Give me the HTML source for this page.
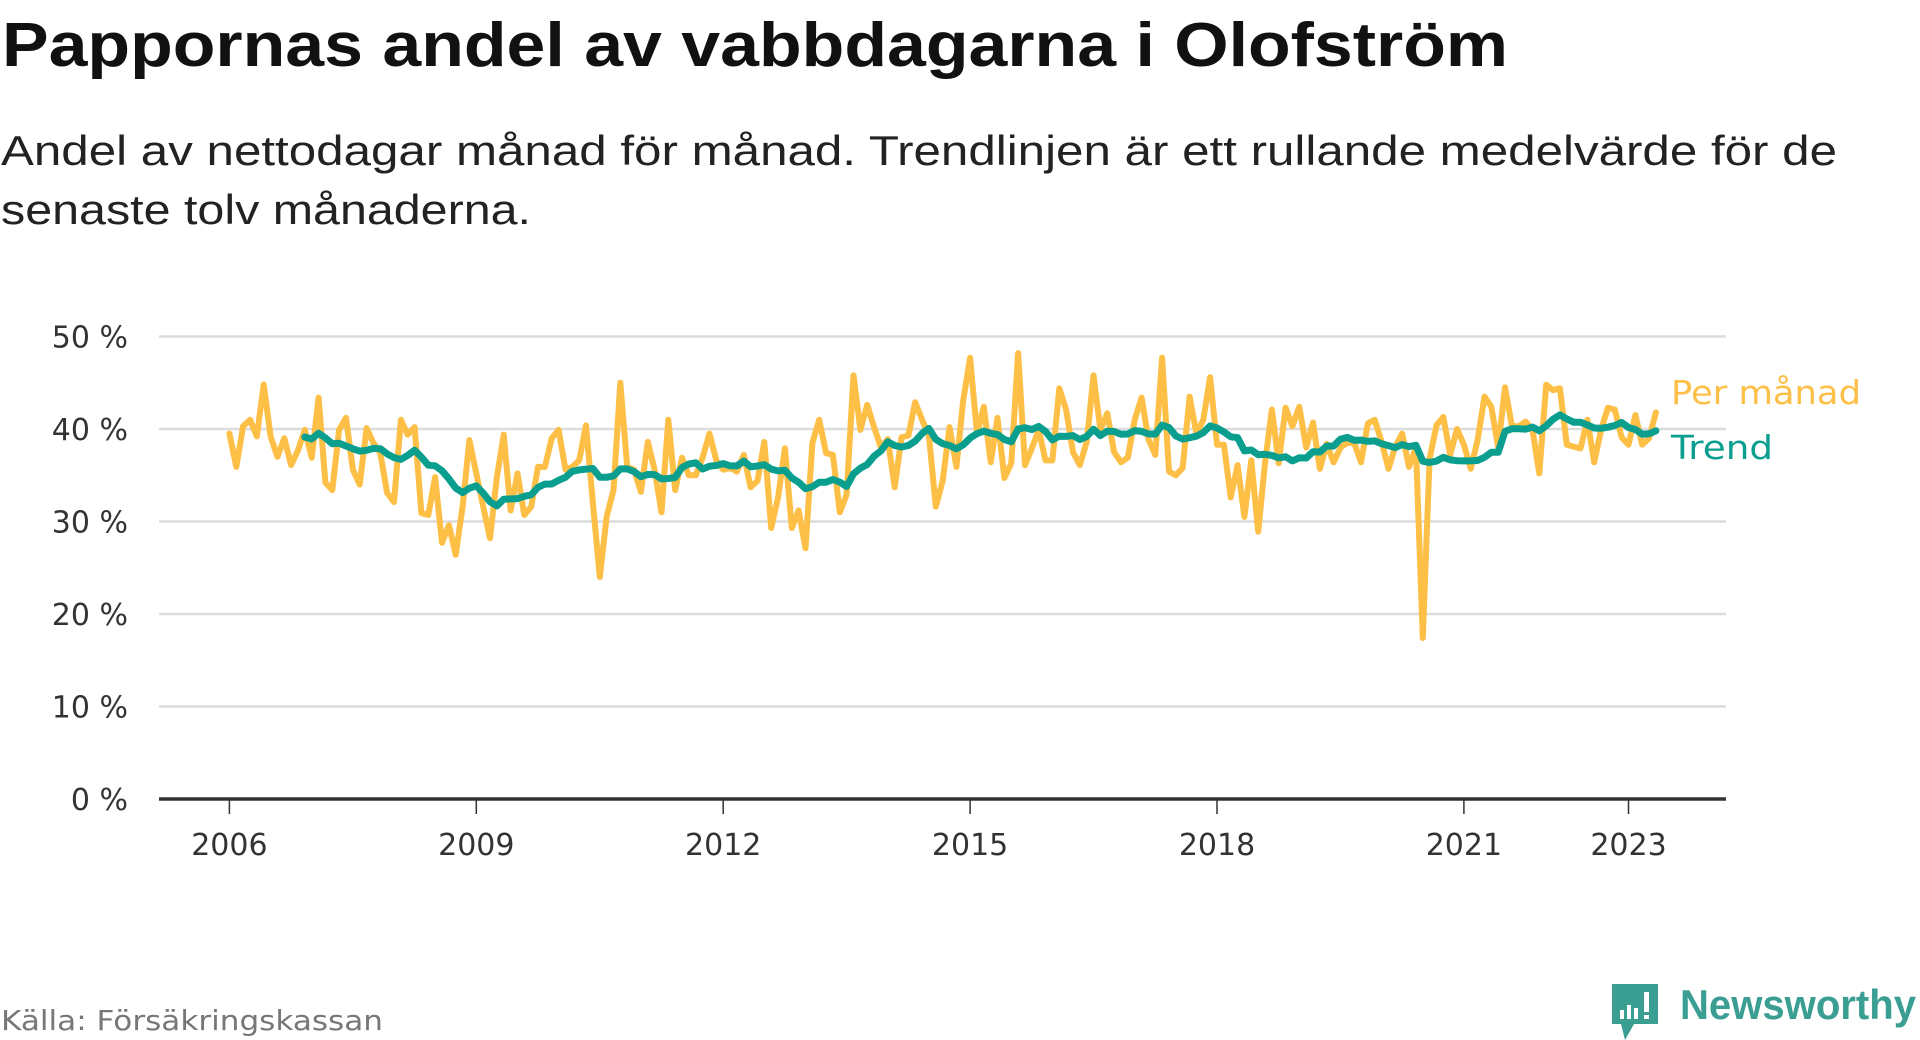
<!DOCTYPE html>
<html><head><meta charset="utf-8"><style>
html,body{margin:0;padding:0;background:#fff;width:1920px;height:1040px;overflow:hidden}
svg{display:block}
</style></head><body>
<svg id="chart" width="1920" height="1040" viewBox="0 0 1920 1040" xmlns="http://www.w3.org/2000/svg" font-family="'DejaVu Sans', 'Liberation Sans', sans-serif">
<text x="2" y="66" font-size="62" font-weight="bold" fill="#111" textLength="1506" lengthAdjust="spacingAndGlyphs" font-family="'Liberation Sans', sans-serif">Pappornas andel av vabbdagarna i Olofström</text>
<text x="1" y="165" font-size="42" fill="#222" textLength="1836" lengthAdjust="spacingAndGlyphs" font-family="'Liberation Sans', sans-serif">Andel av nettodagar månad för månad. Trendlinjen är ett rullande medelvärde för de</text>
<text x="1" y="224" font-size="42" fill="#222" textLength="530" lengthAdjust="spacingAndGlyphs" font-family="'Liberation Sans', sans-serif">senaste tolv månaderna.</text>
<g id="grid"></g>
<g id="yaxis"></g>
<g id="xaxis"></g>
<g id="series"></g>
<text x="1671" y="404" font-size="33" fill="#fdbf46" textLength="190" lengthAdjust="spacingAndGlyphs">Per månad</text>
<text x="1671" y="459" font-size="33" fill="#0a9e8e" textLength="102" lengthAdjust="spacingAndGlyphs">Trend</text>
<text x="1" y="1030" font-size="28" fill="#777" textLength="382" lengthAdjust="spacingAndGlyphs">Källa: Försäkringskassan</text>
<g>
<path d="M1612 984 h46 v40 h-24 l-9 16 l-4 -16 h-9 z" fill="#3a9e93"/>
<rect x="1620" y="1010" width="4" height="9" fill="#fff"/>
<rect x="1627" y="1005" width="4" height="14" fill="#fff"/>
<rect x="1634" y="1008" width="4" height="11" fill="#fff"/>
<rect x="1644" y="992" width="5" height="20" fill="#fff"/>
<rect x="1644" y="1015" width="5" height="4" fill="#fff"/>
<text x="1680" y="1019" font-size="42" font-weight="bold" fill="#3a9e93" textLength="236" lengthAdjust="spacingAndGlyphs" font-family="'Liberation Sans', sans-serif">Newsworthy</text>
</g>
</svg>
<script>
const yTicks = [0, 10, 20, 30, 40, 50];
const yTickLabels = ["0 %", "10 %", "20 %", "30 %", "40 %", "50 %"];
const xTickYears = [2006, 2009, 2012, 2015, 2018, 2021, 2023];
const xTickLabels = ["2006", "2009", "2012", "2015", "2018", "2021", "2023"];
const startYear = 2006;
const monthly = [
39.5,35.9,40.3,41.0,39.2,44.8,39.2,37.0,39.0,36.1,37.7,39.9,
36.9,43.4,34.2,33.4,39.9,41.2,35.6,34.0,40.1,38.5,37.4,33.1,
32.1,41.0,39.4,40.2,30.9,30.7,34.8,27.7,29.6,26.4,31.6,38.8,
35.2,31.6,28.2,34.8,39.4,31.2,35.2,30.7,31.6,35.9,35.9,39.0,
39.9,35.6,35.9,36.6,40.4,32.0,24.0,30.5,33.4,45.0,35.9,35.6,
33.2,38.6,35.6,31.0,41.0,33.4,36.9,35.0,35.0,36.9,39.5,36.6,
35.6,35.8,35.4,37.2,33.7,34.4,38.6,29.3,32.6,37.9,29.3,31.2,
27.1,38.5,41.0,37.4,37.2,31.0,32.9,45.8,39.9,42.6,40.2,38.0,
38.9,33.7,39.1,39.3,42.9,41.0,39.3,31.6,34.4,40.2,35.9,43.1,
47.7,39.5,42.4,36.4,41.2,34.7,36.3,48.2,36.1,37.9,39.9,36.6,
36.6,44.4,42.1,37.5,36.1,38.6,45.8,39.9,41.7,37.5,36.4,36.9,
41.0,43.4,38.9,37.2,47.7,35.4,35.0,35.8,43.5,39.5,41.0,45.6,
38.3,38.3,32.6,36.1,30.5,36.6,28.9,36.3,42.1,36.3,42.3,40.3,
42.4,38.0,40.7,35.7,38.4,36.4,38.0,38.5,38.5,36.4,40.6,41.0,
38.6,35.7,38.1,39.5,35.9,38.0,17.4,36.8,40.4,41.3,37.2,40.0,
38.3,35.7,38.8,43.5,42.4,38.0,44.5,40.3,40.3,40.8,39.9,35.2,
44.8,44.2,44.4,38.3,38.1,37.9,41.0,36.4,39.9,42.3,42.1,39.1,
38.3,41.5,38.3,39.0,41.8
];
const trendWindow = 12;

const svgNS = "http://www.w3.org/2000/svg";
const X0 = 229.4, PX_PER_YEAR = 82.3;
const Y0 = 799, PX_PER_PCT = 9.25;
const PLOT_L = 159, PLOT_R = 1726;
function xScale(t){ return X0 + (t - startYear) * PX_PER_YEAR; }
function yScale(v){ return Y0 - v * PX_PER_PCT; }
function mk(tag, attrs, parent){
  const el = document.createElementNS(svgNS, tag);
  for (const k in attrs) el.setAttribute(k, attrs[k]);
  parent.appendChild(el);
  return el;
}
const grid = document.getElementById('grid');
const yaxis = document.getElementById('yaxis');
const xaxis = document.getElementById('xaxis');
const series = document.getElementById('series');

yTicks.forEach((v, i) => {
  if (v !== 0) {
    const g = mk('line', {x1: PLOT_L, x2: PLOT_R, y1: yScale(v), y2: yScale(v), stroke: '#dcdcdc', 'stroke-width': 2.5}, grid);
    
    
  }
  const t = mk('text', {x: 128, y: yScale(v) + 11, 'text-anchor': 'end', 'font-size': 30, fill: '#333'}, yaxis);
  t.textContent = yTickLabels[i];
  
  
});

const axisLine = mk('line', {x1: PLOT_L, x2: PLOT_R, y1: Y0, y2: Y0, stroke: '#333', 'stroke-width': 3.5}, xaxis);


xTickYears.forEach((yr, i) => {
  const x = xScale(yr);
  const tk = mk('line', {x1: x, x2: x, y1: Y0, y2: Y0 + 15, stroke: '#333', 'stroke-width': 1.5}, xaxis);
  
  
  const t = mk('text', {x: x, y: 855, 'text-anchor': 'middle', 'font-size': 30, fill: '#333'}, xaxis);
  t.textContent = xTickLabels[i];
  
  
});

const mPts = monthly.map((v, i) => xScale(startYear + i / 12).toFixed(1) + ',' + yScale(v).toFixed(1));
const mLine = mk('polyline', {points: mPts.join(' '), fill: 'none', stroke: '#fdbf46', 'stroke-width': 6, 'stroke-linejoin': 'round', 'stroke-linecap': 'round'}, series);



const tPts = [];
for (let i = trendWindow - 1; i < monthly.length; i++) {
  let s = 0;
  for (let j = i - trendWindow + 1; j <= i; j++) s += monthly[j];
  tPts.push(xScale(startYear + i / 12).toFixed(1) + ',' + yScale(s / trendWindow).toFixed(1));
}
const tLine = mk('polyline', {points: tPts.join(' '), fill: 'none', stroke: '#0a9e8e', 'stroke-width': 7, 'stroke-linejoin': 'round', 'stroke-linecap': 'round'}, series);


</script>
</body></html>
